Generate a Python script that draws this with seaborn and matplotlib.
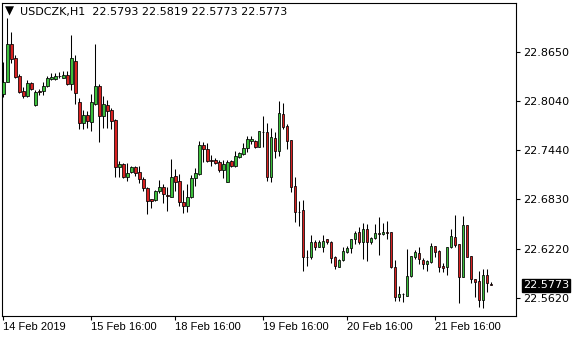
import numpy as np
import matplotlib
matplotlib.use("Agg")
import matplotlib.pyplot as plt
import seaborn as sns

symbol = "USDCZK,H1"
opens = [22.8126, 22.8274, 22.8741, 22.8569, 22.8351, 22.8166, 22.8109, 22.8261, 22.7994, 22.8166,
         22.8170, 22.8228, 22.8310, 22.8314, 22.8351, 22.8330, 22.8363, 22.8249, 22.8536, 22.8035,
         22.7769, 22.7871, 22.7788, 22.8006, 22.8228, 22.7862, 22.7994, 22.7932, 22.7809, 22.7234,
         22.7264, 22.7111, 22.7172, 22.7227, 22.7165, 22.7083, 22.6972, 22.6833, 22.6824, 22.6939,
         22.6980, 22.6886, 22.6865, 22.7120, 22.7058, 22.6803, 22.6754, 22.6857, 22.7091, 22.7144,
         22.7501, 22.7448, 22.7313, 22.7317, 22.7296, 22.7193, 22.7049, 22.7304, 22.7246, 22.7357,
         22.7391, 22.7461, 22.7554, 22.7551, 22.7480, 22.7661, 22.7658, 22.7111, 22.7584, 22.7431,
         22.7883, 22.7735, 22.7563, 22.6996, 22.6680, 22.6701, 22.6126, 22.6126, 22.6303, 22.6249,
         22.6249, 22.6340, 22.6310, 22.6118, 22.6003, 22.6085, 22.6187, 22.6229, 22.6340, 22.6426,
         22.6310, 22.6463, 22.6303, 22.6352, 22.6414, 22.6402, 22.6426, 22.6426, 22.5995, 22.5626,
         22.5666, 22.5646, 22.5888, 22.6126, 22.6168, 22.6085, 22.6032, 22.6064, 22.6258, 22.6196,
         22.6011, 22.6003, 22.6241, 22.6365, 22.6282, 22.5879, 22.6516, 22.6134, 22.5847, 22.5827,
         22.5593, 22.5900, 22.5793]
highs = [22.8527, 22.9062, 22.8897, 22.8610, 22.8372, 22.8219, 22.8302, 22.8274, 22.8179, 22.8191,
         22.8274, 22.8355, 22.8384, 22.8384, 22.8404, 22.8416, 22.8416, 22.8856, 22.8610, 22.8076,
         22.7932, 22.7920, 22.8126, 22.8741, 22.8249, 22.8105, 22.8056, 22.7961, 22.7818, 22.7304,
         22.7276, 22.7276, 22.7243, 22.7243, 22.7243, 22.7104, 22.6988, 22.6833, 22.6947, 22.7070,
         22.7021, 22.6988, 22.7329, 22.7206, 22.7144, 22.6947, 22.7021, 22.7132, 22.7222, 22.7554,
         22.7542, 22.7530, 22.7378, 22.7338, 22.7317, 22.7317, 22.7317, 22.7317, 22.7431, 22.7419,
         22.7522, 22.7612, 22.7612, 22.7563, 22.7674, 22.7859, 22.7769, 22.7707, 22.7665, 22.8043,
         22.8015, 22.7756, 22.7563, 22.7104, 22.6812, 22.6824, 22.6208, 22.6393, 22.6331, 22.6331,
         22.6393, 22.6340, 22.6319, 22.6134, 22.6097, 22.6249, 22.6261, 22.6340, 22.6442, 22.6495,
         22.6545, 22.6525, 22.6372, 22.6525, 22.6611, 22.6537, 22.6565, 22.6426, 22.6085, 22.5765,
         22.5675, 22.6217, 22.6134, 22.6208, 22.6241, 22.6106, 22.6085, 22.6298, 22.6258, 22.6208,
         22.6045, 22.6241, 22.6467, 22.6639, 22.6282, 22.6627, 22.6516, 22.6134, 22.5847, 22.5950,
         22.5974, 22.5974, 22.5819]
lows = [22.8096, 22.8274, 22.8508, 22.8323, 22.8138, 22.8076, 22.8096, 22.8175, 22.7985, 22.8117,
        22.8117, 22.8219, 22.8302, 22.8298, 22.8330, 22.8323, 22.8240, 22.8179, 22.8003, 22.7698,
        22.7698, 22.7707, 22.7674, 22.7994, 22.7535, 22.7711, 22.7707, 22.7698, 22.7111, 22.7111,
        22.7091, 22.7062, 22.7153, 22.7120, 22.7037, 22.6939, 22.6652, 22.6729, 22.6812, 22.6907,
        22.6791, 22.6692, 22.6865, 22.6935, 22.6750, 22.6668, 22.6680, 22.6845, 22.6996, 22.7132,
        22.7296, 22.7296, 22.7243, 22.7267, 22.7172, 22.7091, 22.7049, 22.7234, 22.7234, 22.7338,
        22.7378, 22.7419, 22.7514, 22.7461, 22.7480, 22.7480, 22.7062, 22.7049, 22.7345, 22.7366,
        22.7695, 22.7452, 22.6926, 22.6557, 22.6508, 22.5953, 22.6011, 22.6097, 22.6208, 22.6249,
        22.6187, 22.6282, 22.6052, 22.5971, 22.5995, 22.6073, 22.6175, 22.6175, 22.6282, 22.6282,
        22.6097, 22.6077, 22.6282, 22.6340, 22.6147, 22.6393, 22.6340, 22.5987, 22.5584, 22.5584,
        22.5568, 22.5646, 22.5879, 22.6097, 22.6036, 22.5974, 22.5953, 22.6052, 22.6126, 22.5941,
        22.5941, 22.5900, 22.6229, 22.6241, 22.5559, 22.5872, 22.6126, 22.5806, 22.5633, 22.5503,
        22.5490, 22.5695, 22.5773]
closes = [22.8281, 22.8741, 22.8557, 22.8342, 22.8158, 22.8109, 22.8261, 22.8187, 22.8150, 22.8160,
          22.8228, 22.8323, 22.8335, 22.8355, 22.8347, 22.8363, 22.8249, 22.8576, 22.8138, 22.7769,
          22.7871, 22.7801, 22.8027, 22.8228, 22.7862, 22.8006, 22.7924, 22.7801, 22.7234, 22.7267,
          22.7111, 22.7153, 22.7227, 22.7160, 22.7079, 22.6968, 22.6815, 22.6815, 22.6935, 22.6980,
          22.6894, 22.6879, 22.7104, 22.7049, 22.6803, 22.6754, 22.6857, 22.7091, 22.7153, 22.7501,
          22.7448, 22.7308, 22.7308, 22.7283, 22.7193, 22.7264, 22.7296, 22.7246, 22.7366, 22.7399,
          22.7461, 22.7571, 22.7571, 22.7480, 22.7674, 22.7658, 22.7111, 22.7596, 22.7431, 22.7892,
          22.7727, 22.7554, 22.6980, 22.6673, 22.6676, 22.6126, 22.6122, 22.6303, 22.6249, 22.6303,
          22.6323, 22.6310, 22.6106, 22.6011, 22.6085, 22.6196, 22.6229, 22.6340, 22.6421, 22.6310,
          22.6463, 22.6303, 22.6352, 22.6414, 22.6410, 22.6426, 22.6423, 22.5995, 22.5626, 22.5666,
          22.5663, 22.5888, 22.6134, 22.6180, 22.6094, 22.6032, 22.6073, 22.6258, 22.6187, 22.5995,
          22.5990, 22.6241, 22.6381, 22.6270, 22.5872, 22.6516, 22.6126, 22.5847, 22.5818, 22.5593,
          22.5900, 22.5798, 22.5773]

price_ticks = [22.8650, 22.8040, 22.7440, 22.6830, 22.6220, 22.5620]
price_tick_labels = ["22.8650", "22.8040", "22.7440", "22.6830", "22.6220", "22.5620"]
time_tick_bars = [0, 22, 43, 65, 86, 108]
time_tick_labels = ["14 Feb 2019", "15 Feb 16:00", "18 Feb 16:00", "19 Feb 16:00",
                    "20 Feb 16:00", "21 Feb 16:00"]
last_price = 22.5773

BULL = "#3cbf3c"
BEAR = "#d82020"

sns.set_theme(style="white")
plt.rcParams["font.family"] = ["DejaVu Sans"]

o = np.array(opens); h = np.array(highs); l = np.array(lows); c = np.array(closes)
x = np.arange(len(o))

fig = plt.figure(figsize=(5.8, 3.4), dpi=100)
fig.patch.set_facecolor("white")
ax = fig.add_axes([2 / 580, 1 - 316 / 340, 514 / 580, 313 / 340])
ax.set_facecolor("white")

ax.vlines(x, l, h, color="black", linewidth=0.75, zorder=2)
up = c > o
bottoms = np.minimum(o, c)
heights = np.abs(c - o)
colors = np.where(up, BULL, BEAR)
ax.bar(x, heights, bottom=bottoms, width=0.62, color=colors, edgecolor="black",
       linewidth=0.55, zorder=3)

ax.set_xlim(-0.33, 128.2)
ax.set_ylim(22.5395, 22.9250)

for s in ax.spines.values():
    s.set_color("black")
    s.set_linewidth(0.8)

ax.yaxis.tick_right()
ax.set_yticks(price_ticks)
ax.set_yticklabels(price_tick_labels)
ax.set_xticks(time_tick_bars)
ax.set_xticklabels(time_tick_labels)
ax.tick_params(axis="both", which="both", direction="out", length=3, width=0.8,
               colors="black", labelsize=8)
ax.tick_params(axis="y", pad=2, labelright=True, labelleft=False, right=True, left=False)
ax.tick_params(axis="x", pad=1.5, bottom=True)
for lab in ax.get_xticklabels():
    lab.set_horizontalalignment("left")
    lab.set_fontfamily(["Liberation Sans", "DejaVu Sans"])
    lab.set_fontsize(8)

ax.annotate(f"{last_price:.4f}", xy=(1.0, last_price), xycoords=("axes fraction", "data"),
            xytext=(7, 0), textcoords="offset pixels", ha="left", va="center",
            fontsize=8, color="white",
            bbox=dict(boxstyle="square,pad=0.12", fc="black", ec="black"))

fig.text(5 / 580, 1 - 15 / 340, "\u25BC", fontsize=8.5, color="black", va="baseline", ha="left")
fig.text(20.5 / 580, 1 - 15.5 / 340,
         f"{symbol}  {opens[-1]:.4f} {highs[-1]:.4f} {lows[-1]:.4f} {closes[-1]:.4f}",
         fontsize=8, color="black", va="baseline", ha="left")

fig.savefig("out.png", dpi=100, facecolor="white")
